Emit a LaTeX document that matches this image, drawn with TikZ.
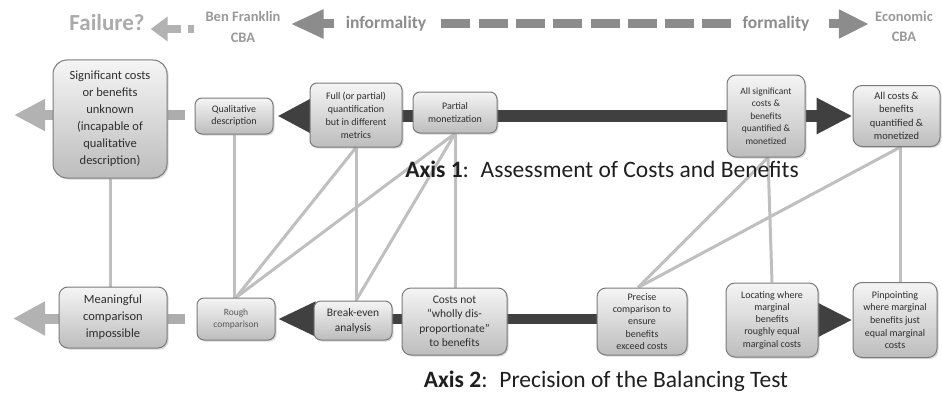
\documentclass[tikz,border=0pt]{standalone}
\usepackage{fontspec}
\setmainfont{Carlito}
\usetikzlibrary{arrows.meta,shadows,backgrounds}
\begin{document}
\begin{tikzpicture}[x=1pt,y=-1pt,
  box/.style={draw=black!52, line width=1pt, rounded corners=7pt,
    top color=black!4, bottom color=black!26,
    drop shadow={shadow xshift=1.5pt, shadow yshift=-1.5pt, opacity=0.3},
    align=center, inner sep=1pt, text=black!82},
  link/.style={draw=black!25, line width=3pt},
  toptext/.style={inner sep=0pt, align=center, font=\bfseries},
]
\useasboundingbox (0,0) rectangle (942,396);

% ---------- top row ----------
\node[toptext, text=black!33, font=\fontsize{23}{26}\selectfont\bfseries] (failure) at (107,23) {Failure?};
\node[toptext, text=black!40, font=\fontsize{14.5}{21}\selectfont\bfseries] (ben) at (243,27) {Ben Franklin\\CBA};
\node[toptext, text=black!45, font=\fontsize{17.5}{21}\selectfont\bfseries] (informal) at (386,24) {informality};
\node[toptext, text=black!45, font=\fontsize{17.5}{21}\selectfont\bfseries] (formal) at (776,24) {formality};
\node[toptext, text=black!40, font=\fontsize{14.5}{20}\selectfont\bfseries] (econ) at (904,26) {Economic\\CBA};
\coordinate (smally) at (0,29);

\draw[draw=black!30, line width=8pt, dash pattern=on 6pt off 7pt on 30pt,
  shorten <=11pt, shorten >=6pt, -{Triangle[length=17pt,width=24pt]}]
  (ben.west |- smally) -- (failure.east |- smally);
\draw[draw=black!45, line width=9pt, shorten <=12pt, shorten >=10pt,
  -{Triangle[length=33pt,width=27pt]}]
  (informal.west) -- (ben.east |- informal.west);
\draw[draw=black!45, line width=9pt, shorten <=15pt, shorten >=11pt,
  dash pattern=on 29pt off 8.3pt]
  (informal.east) -- (formal.west);
\draw[draw=black!45, line width=9pt, shorten <=19pt, shorten >=6pt,
  -{Triangle[length=30pt,width=27pt]}]
  (formal.east) -- (econ.west |- formal.east);

% ---------- axis 1 boxes ----------
\node[box, minimum width=114pt, minimum height=118pt, rounded corners=14pt,
  font=\fontsize{12.5}{17}\selectfont] (big) at (110,119)
  {Significant costs\\or benefits\\unknown\\(incapable of\\qualitative\\description)};
\node[box, minimum width=78pt, minimum height=36pt, font=\fontsize{10}{12.5}\selectfont]
  (qual) at (234,116) {Qualitative\\description};
\node[box, minimum width=92pt, minimum height=64pt, font=\fontsize{10}{13}\selectfont]
  (full) at (356,115) {Full (or partial)\\quantification\\but in different\\metrics};
\node[box, minimum width=84pt, minimum height=41pt, font=\fontsize{10}{13}\selectfont]
  (partial) at (455,112.5) {Partial\\monetization};
\node[box, minimum width=78pt, minimum height=82pt, rounded corners=9pt, font=\fontsize{9.5}{12.5}\selectfont]
  (allsig) at (766,116) {All significant\\costs \&\\benefits\\quantified \&\\monetized};
\node[box, minimum width=87pt, minimum height=61pt, rounded corners=9pt, font=\fontsize{10.5}{13.3}\selectfont]
  (allcost) at (896.5,116) {All costs \&\\benefits\\quantified \&\\monetized};

% ---------- axis 2 boxes ----------
\node[box, minimum width=108pt, minimum height=61pt, rounded corners=9pt, font=\fontsize{12.5}{17}\selectfont]
  (meaning) at (113,317.5) {Meaningful\\comparison\\impossible};
\node[box, minimum width=78pt, minimum height=42pt, font=\fontsize{9.5}{12.7}\selectfont, text=black!65]
  (rough) at (236,319) {Rough\\comparison};
\node[box, minimum width=78pt, minimum height=39pt, font=\fontsize{11.5}{15}\selectfont]
  (breakeven) at (353,320.5) {Break-even\\analysis};
\node[box, minimum width=105pt, minimum height=67pt, rounded corners=9pt, font=\fontsize{11.5}{14.5}\selectfont]
  (costs) at (454.5,321.5) {Costs not\\“wholly dis-\\proportionate”\\to benefits};
\node[box, minimum width=90pt, minimum height=67pt, rounded corners=9pt, font=\fontsize{10}{12.4}\selectfont]
  (precise) at (642,321.5) {Precise\\comparison to\\ensure\\benefits\\exceed costs};
\node[box, minimum width=92pt, minimum height=74pt, rounded corners=9pt, font=\fontsize{10}{12.3}\selectfont]
  (locating) at (772,320) {Locating where\\marginal\\benefits\\roughly equal\\marginal costs};
\node[box, minimum width=84pt, minimum height=75pt, rounded corners=9pt, font=\fontsize{10}{12.6}\selectfont]
  (pinpoint) at (895,320) {Pinpointing\\where marginal\\benefits just\\equal marginal\\costs};

% ---------- axis labels ----------
\node[font=\fontsize{23.5}{27}\selectfont, text=black!88, inner sep=0pt] (axis1) at (602,169)
  {\textbf{Axis 1}:\hspace{0.5em}Assessment of Costs and Benefits};
\node[font=\fontsize{23.5}{27}\selectfont, text=black!88, inner sep=0pt] (axis2) at (606,381)
  {\textbf{Axis 2}:\hspace{0.5em}Precision of the Balancing Test};

\coordinate (bigtip) at (14,115);
\coordinate (bigstub) at (185,115);
\coordinate (mtip) at (13,318.5);
\coordinate (mstub) at (185,318.5);

\begin{scope}[on background layer]
  % connectors between axes
  \draw[link] (big.south) -- (big.south |- meaning.north);
  \draw[link] (qual.south) -- (qual.south |- rough.north);
  \draw[link] (full.south) -- (rough.north);
  \draw[link] (partial.south) -- (rough.north);
  \draw[link] (full.south) -- (full.south |- breakeven.north);
  \draw[link] (partial.south) -- ([xshift=3pt]breakeven.north);
  \draw[link] (partial.south) -- (partial.south |- costs.north);
  \draw[link] ([xshift=2pt]allsig.south) -- ([xshift=-4pt]precise.north);
  \draw[link] ([xshift=2pt]allsig.south) -- (locating.north);
  \draw[link] ([xshift=4pt]allcost.south) -- ([xshift=-4pt]precise.north);
  \draw[link] ([xshift=4pt]allcost.south) -- ([xshift=4pt]allcost.south |- pinpoint.north);

  % axis 1 arrows
  \draw[draw=black!75, line width=12pt, shorten >=4pt,
    -{Triangle[length=33pt,width=32pt]}] (allsig.west) -- (qual.east);
  \draw[draw=black!75, line width=12pt,
    -{Triangle[length=36pt,width=34pt]}] (allsig.east) -- (allcost.west);
  % axis 2 arrows
  \draw[draw=black!75, line width=10pt, shorten >=2pt,
    -{Triangle[length=38pt,width=32pt]}] (precise.west |- rough.east) -- (rough.east);
  \draw[draw=black!75, line width=10pt,
    -{Triangle[length=35pt,width=32pt]}] (locating.east) -- (pinpoint.west |- locating.east);

  % light arrows on the left
  \draw[draw=black!30, line width=10pt, -{Triangle[length=31pt,width=30pt]}]
    (big.west |- bigtip) -- (bigtip);
  \draw[draw=black!32, line width=10pt] (big.east |- bigstub) -- (bigstub);
  \draw[draw=black!30, line width=10pt, -{Triangle[length=32pt,width=32pt]}]
    (meaning.west |- mtip) -- (mtip);
  \draw[draw=black!32, line width=10pt] (meaning.east |- mstub) -- (mstub);
\end{scope}
\end{tikzpicture}
\end{document}
